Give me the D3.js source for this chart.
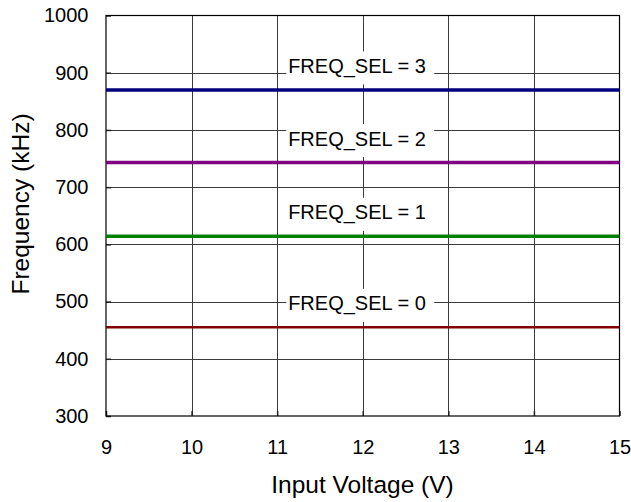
<!DOCTYPE html>
<html>
<head>
<meta charset="utf-8">
<script src="https://cdn.jsdelivr.net/npm/d3@7"></script>
<style>
  html, body { margin: 0; padding: 0; background: #fff; }
  svg { display: block; font-family: "Liberation Sans", Arial, sans-serif; }
</style>
</head>
<body>
<svg id="chart" width="631" height="502"></svg>
<script>
// ---- data ----
const voltages = [9, 10, 11, 12, 13, 14, 15];
const xTicks = [9, 10, 11, 12, 13, 14, 15];
const yTicks = [300, 400, 500, 600, 700, 800, 900, 1000];
const seriesNames = ["FREQ_SEL = 0", "FREQ_SEL = 1", "FREQ_SEL = 2", "FREQ_SEL = 3"];
const freqSel0 = [455, 455, 455, 455, 455, 455, 455];
const freqSel1 = [614, 614, 614, 614, 614, 614, 614];
const freqSel2 = [743, 743, 743, 743, 743, 743, 743];
const freqSel3 = [870, 870, 870, 870, 870, 870, 870];
const xTitle = "Input Voltage (V)";
const yTitle = "Frequency (kHz)";

// ---- styles ----
const colors = ["#800000", "#008000", "#800080", "#000080"];
const widths = [2.5, 3.5, 3.5, 3.5];
const allSeries = [freqSel0, freqSel1, freqSel2, freqSel3];

const svg = d3.select("#chart");
const pLeft = 106, pRight = 619.5, pTop = 15.5, pBottom = 416;
const x = d3.scaleLinear().domain([9, 15]).range([pLeft, pRight]);
const y = d3.scaleLinear().domain([300, 1000]).range([pBottom, pTop]);
const fontSize = 20;
const titleSize = 24.5;

// grid
const grid = svg.append("g");
grid.selectAll("line.v").data(xTicks.slice(1, -1)).join("line")
  .attr("x1", d => Math.round(x(d)) + 0.5).attr("x2", d => Math.round(x(d)) + 0.5)
  .attr("y1", pTop).attr("y2", pBottom)
  .attr("stroke", "#3a3a3a").attr("stroke-width", 1);
grid.selectAll("line.h").data(yTicks.slice(1, -1)).join("line")
  .attr("y1", d => Math.round(y(d)) + 0.5).attr("y2", d => Math.round(y(d)) + 0.5)
  .attr("x1", pLeft).attr("x2", pRight)
  .attr("stroke", "#3a3a3a").attr("stroke-width", 1);

// axes (ticks inward, labels outside)
const yAxis = d3.axisLeft(y).tickValues(yTicks).tickSize(-5).tickPadding(17.5).tickFormat(d3.format("d"));
const xAxis = d3.axisBottom(x).tickValues(xTicks).tickSize(-5).tickPadding(24).tickFormat(d3.format("d"));
const gy = svg.append("g").attr("transform", `translate(${pLeft},0)`).call(yAxis);
const gx = svg.append("g").attr("transform", `translate(0,${pBottom})`).call(xAxis);
[gx, gy].forEach(g => {
  g.select(".domain").remove();
  g.selectAll(".tick line").attr("stroke", "#222").attr("stroke-width", 1.5);
  g.selectAll(".tick text").attr("font-size", fontSize).attr("fill", "#000")
    .attr("font-family", "Liberation Sans, Arial, sans-serif");
});
gx.selectAll(".tick text").attr("dy", "0.71em");

// frame
svg.append("rect").attr("x", pLeft).attr("y", pTop)
  .attr("width", pRight - pLeft).attr("height", pBottom - pTop)
  .attr("fill", "none").attr("stroke", "#000").attr("stroke-width", 1.2);

// lines
const line = d3.line().x((d, i) => x(voltages[i])).y(d => y(d));
allSeries.forEach((s, i) => {
  svg.append("path").datum(s).attr("d", line)
    .attr("fill", "none").attr("stroke", colors[i]).attr("stroke-width", widths[i]);
});

// labels with white boxes
allSeries.forEach((s, i) => {
  const by = y(s[3]) - 17;
  const g = svg.append("g");
  g.append("rect").attr("x", x(11) + 9).attr("y", by - 21.5)
    .attr("width", 148).attr("height", 33).attr("fill", "#fff");
  g.append("text").attr("x", x(11) + 11).attr("y", by)
    .attr("font-size", fontSize).attr("fill", "#000")
    .text(seriesNames[i]);
});

// titles
svg.append("text").attr("x", 362.5).attr("y", 493)
  .attr("text-anchor", "middle").attr("font-size", titleSize).text(xTitle);
svg.append("text").attr("transform", `translate(29,204) rotate(-90)`)
  .attr("text-anchor", "middle").attr("font-size", titleSize).text(yTitle);
</script>
</body>
</html>
